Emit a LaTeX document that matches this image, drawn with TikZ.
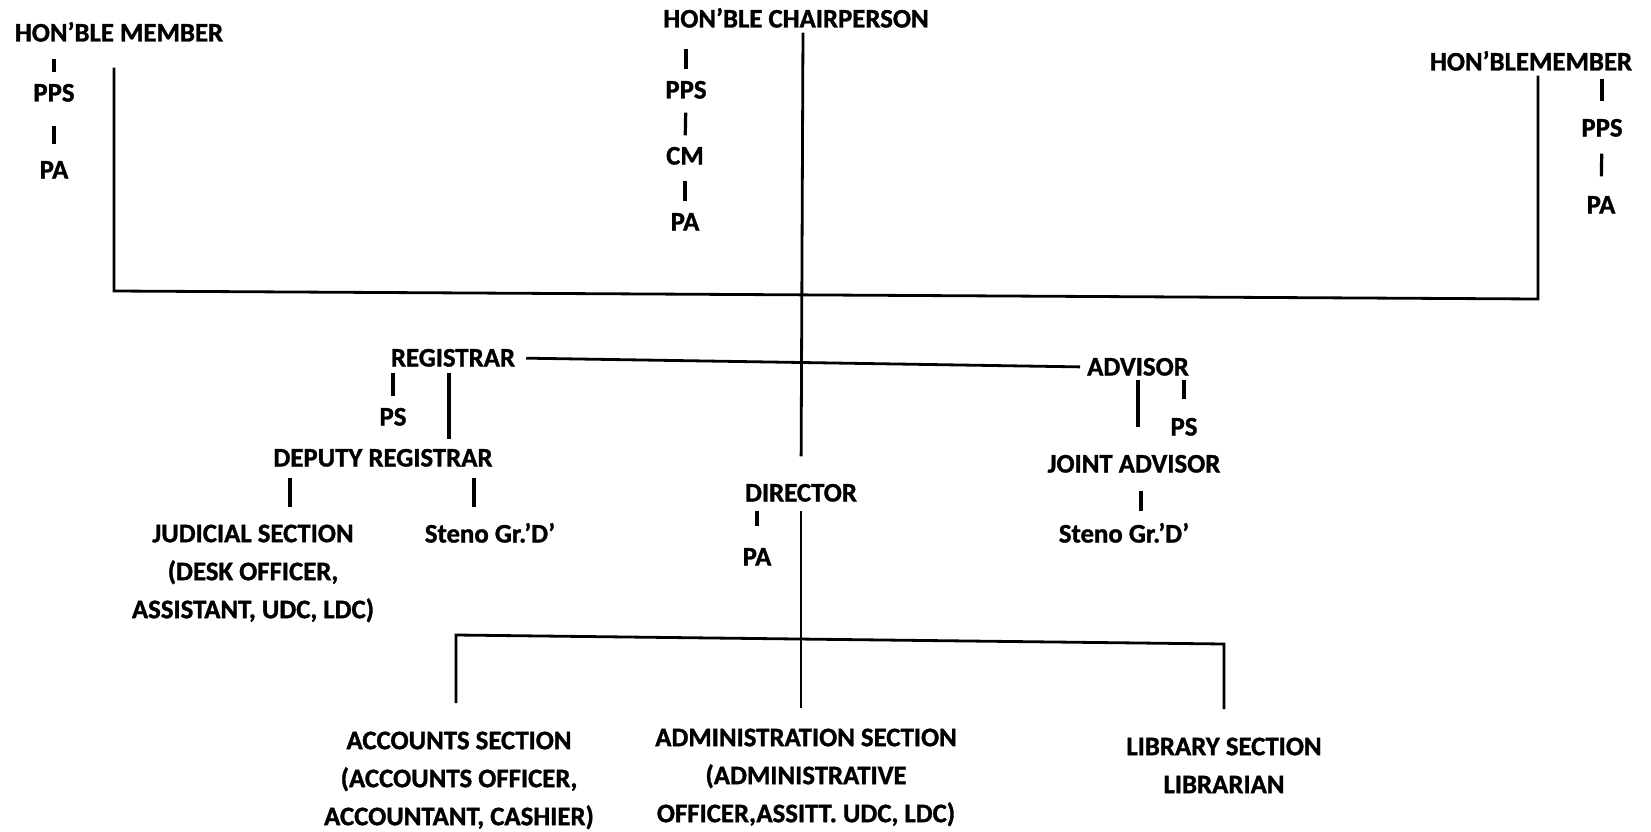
\documentclass[tikz,border=0pt]{standalone}
\usepackage{fontspec}
\setmainfont{Carlito}[BoldFeatures={FakeBold=1.2}]
\newcommand\lblfont{\fontsize{26.8}{38}\selectfont\bfseries}
\tikzset{
  lbl/.style={inner sep=0pt, text height=17pt, text depth=0pt, font=\lblfont},
  blk/.style={inner sep=0pt, align=center, anchor=north, font=\lblfont},
  conn/.style={line width=2.8pt},
  tk/.style={line width=3.2pt}
}
\begin{document}
\begin{tikzpicture}[x=1pt,y=-1pt]
\useasboundingbox (0,0) rectangle (1651,832);
\fill[white] (0,0) rectangle (1651,832);
% nodes
\node[lbl] (m1) at (119,33) {HON’BLE MEMBER};
\node[lbl] (m1pps) at (54,93) {PPS};
\node[lbl] (m1pa) at (54,170) {PA};
\node[lbl] (ch) at (796,19) {HON’BLE CHAIRPERSON};
\node[lbl] (chpps) at (686,90) {PPS};
\node[lbl] (chcm) at (685,156) {CM};
\node[lbl] (chpa) at (685,222) {PA};
\node[lbl] (m2) at (1531,62) {HON’BLEMEMBER};
\node[lbl] (m2pps) at (1602,128) {PPS};
\node[lbl] (m2pa) at (1601,205) {PA};
\node[lbl] (reg) at (453,358) {REGISTRAR};
\node[lbl] (regps) at (393,417) {PS};
\node[lbl] (dr) at (383,458) {DEPUTY REGISTRAR};
\node[blk] (jud) at (253,521) {\rule{0pt}{21pt}JUDICIAL SECTION\\(DESK OFFICER,\\ASSISTANT, UDC, LDC)};
\node[lbl] (sten1) at (490,534) {Steno Gr.’D’};
\node[lbl] (adv) at (1138,367) {ADVISOR};
\node[lbl] (advps) at (1184,427) {PS};
\node[lbl] (ja) at (1134,464) {JOINT ADVISOR};
\node[lbl] (sten2) at (1124,534) {Steno Gr.’D’};
\node[lbl] (dir) at (801,493) {DIRECTOR};
\node[lbl] (dirpa) at (757,557) {PA};
\node[blk] (acc) at (459,728) {\rule{0pt}{21pt}ACCOUNTS SECTION\\(ACCOUNTS OFFICER,\\ACCOUNTANT, CASHIER)};
\node[blk] (adm) at (806,725) {\rule{0pt}{21pt}ADMINISTRATION SECTION\\(ADMINISTRATIVE\\OFFICER,ASSITT. UDC, LDC)};
\node[blk] (lib) at (1224,734) {\rule{0pt}{21pt}LIBRARY SECTION\\LIBRARIAN};
% ticks
\draw[tk, shorten <=17pt, shorten >=12pt] (m1pps.north |- m1.south) -- (m1pps.north);
\draw[tk, shorten <=24pt, shorten >=17pt] (m1pps.south) -- (m1pa.north);
\draw[tk, shorten <=21pt, shorten >=12pt] (chpps.north |- ch.south) -- (chpps.north);
\draw[tk, shorten <=14pt, shorten >=12pt] (chpps.south) -- (chcm.north);
\draw[tk, shorten <=16pt, shorten >=12pt] (chcm.south) -- (chpa.north);
\draw[tk, shorten <=8pt, shorten >=18pt] (m2pps.north |- m2.south) -- (m2pps.north);
\draw[tk, shorten <=17pt, shorten >=20pt] (m2pps.south) -- (m2pa.north);
\draw[tk, shorten <=6pt, shorten >=12pt] (regps.north |- reg.south) -- (regps.north);
\draw[tk, shorten <=6pt, shorten >=10pt] ([xshift=-4pt]reg.south) -- ([xshift=-4pt]reg.south |- dr.north);
\draw[tk, shorten <=11pt, shorten >=14pt] ([xshift=-93pt]dr.south) -- ([xshift=-93pt]dr.south |- jud.north);
\draw[tk, shorten <=11pt, shorten >=18pt] ([xshift=91pt]dr.south) -- ([xshift=91pt]dr.south |- sten1.north);
\draw[tk, shorten <=4pt, shorten >=28pt] (adv.south) -- (adv.south |- ja.north);
\draw[tk, shorten <=4pt, shorten >=19pt] (advps.north |- adv.south) -- (advps.north);
\draw[tk, shorten <=18pt, shorten >=14pt] ([xshift=7pt]ja.south) -- ([xshift=7pt]ja.south |- sten2.north);
\draw[tk, shorten <=9pt, shorten >=22pt] (dirpa.north |- dir.south) -- (dirpa.north);
% connectors
\coordinate (tbl) at (114,291);
\coordinate (tbr) at (1538,299);
\coordinate (bbl) at (456,635);
\coordinate (bbr) at (1224,644);
\draw[conn, shorten <=26pt, shorten >=5pt] ([xshift=-5pt]m1.south) -- (tbl) -- (tbr) -- ([xshift=7pt]m2.south);
\draw[conn, shorten <=5pt, shorten >=28pt] ([xshift=7pt]ch.south) -- (dir.north);
\draw[conn, shorten <=9pt, shorten >=17pt] (dir.south) -- (dir.south |- adm.north);
\draw[conn, shorten <=11pt, shorten >=7pt] (reg.east) -- (adv.west);
\draw[conn, shorten <=25pt, shorten >=25pt] ([xshift=-3pt]acc.north) -- (bbl) -- (bbr) -- (lib.north);
\end{tikzpicture}
\end{document}
